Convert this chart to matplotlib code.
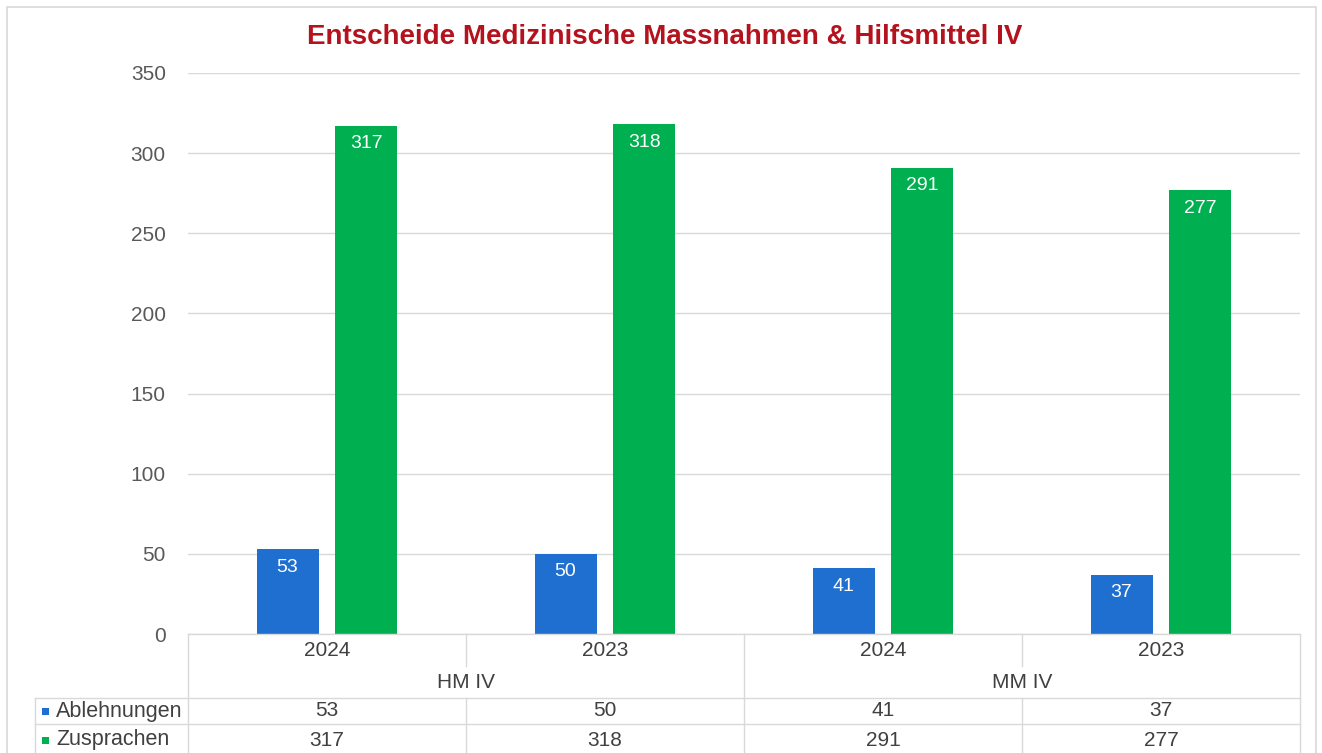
import matplotlib
matplotlib.use("Agg")
import matplotlib.pyplot as plt
from matplotlib.lines import Line2D
from matplotlib.patches import Rectangle

plt.rcParams['font.family'] = ['Liberation Sans', 'DejaVu Sans']

title = "Entscheide Medizinische Massnahmen & Hilfsmittel IV"
years = ["2024", "2023", "2024", "2023"]
groups = ["HM IV", "MM IV"]
series_names = ["Ablehnungen", "Zusprachen"]
ablehnungen = [53, 50, 41, 37]
zusprachen = [317, 318, 291, 277]
yticks = [0, 50, 100, 150, 200, 250, 300, 350]

colors = ["#1F6FD1", "#00B050"]
W, H = 1322, 753
fig = plt.figure(figsize=(W / 100, H / 100), dpi=100)

def fx(px):
    return px / W

def fy(py):
    return 1 - py / H

# outer border
fig.add_artist(Rectangle((fx(7), fy(760)), fx(1316) - fx(7), fy(7) - fy(760),
                         transform=fig.transFigure, fill=False, ec="#D9D9D9", lw=1.2))

ax_l, ax_r, ax_t, ax_b = 188, 1300, 73, 634
ax = fig.add_axes([fx(ax_l), fy(ax_b), fx(ax_r) - fx(ax_l), fy(ax_t) - fy(ax_b)])
n = len(years)
x = list(range(n))
bw = 0.223
off = 0.142
b1 = ax.bar([i - off for i in x], ablehnungen, width=bw, color=colors[0], zorder=3)
b2 = ax.bar([i + off for i in x], zusprachen, width=bw, color=colors[1], zorder=3)
for bars, vals in ((b1, ablehnungen), (b2, zusprachen)):
    for r, v in zip(bars, vals):
        ax.annotate(str(v), (r.get_x() + r.get_width() / 2, v), xytext=(0, -13),
                    textcoords="offset points", ha="center", va="center",
                    color="white", fontsize=14, zorder=4)

ax.set_xlim(-0.5, n - 0.5)
ax.set_ylim(0, 350)
ax.set_yticks(yticks)
ax.set_yticklabels([str(t) for t in yticks], color="#595959", fontsize=15)
ax.tick_params(axis="y", length=0, pad=16)
ax.set_xticks([])
ax.grid(axis="y", color="#D9D9D9", lw=1, zorder=0)
for s in ax.spines.values():
    s.set_visible(False)
ax.set_facecolor("none")

fig.text(fx(665), fy(37), title, ha="center", va="center", color="#B4121D",
         fontsize=20, fontweight="bold")

# data table
line_c = "#D9D9D9"
def hline(y, x0, x1):
    fig.add_artist(Line2D([fx(x0), fx(x1)], [fy(y), fy(y)], color=line_c, lw=1,
                          transform=fig.transFigure))

def vline(x, y0, y1):
    fig.add_artist(Line2D([fx(x), fx(x)], [fy(y0), fy(y1)], color=line_c, lw=1,
                          transform=fig.transFigure))

cat_w = (ax_r - ax_l) / n
hline(634, ax_l, ax_r)
hline(698, 35, ax_r)
hline(724, 35, ax_r)
vline(ax_l, 634, 753)
vline(ax_r, 634, 753)
vline(35, 698, 753)
for i in range(1, n):
    xb = ax_l + i * cat_w
    if i == n // 2:
        vline(xb, 634, 753)
    else:
        vline(xb, 634, 666)
        vline(xb, 698, 753)

tc = "#404040"
for i, yr in enumerate(years):
    fig.text(fx(ax_l + (i + 0.5) * cat_w), fy(651), yr, ha="center", va="center",
             color=tc, fontsize=15)
for g, name in enumerate(groups):
    fig.text(fx(ax_l + (2 * g + 1) * cat_w), fy(683), name, ha="center", va="center",
             color=tc, fontsize=15)
for r, (name, vals) in enumerate(zip(series_names, (ablehnungen, zusprachen))):
    yc = 711 + r * 29
    fig.add_artist(Rectangle((fx(42), fy(yc + 3.5)), fx(7), fy(yc - 3.5) - fy(yc + 3.5),
                             transform=fig.transFigure, color=colors[r], lw=0))
    fig.text(fx(56), fy(yc), name, ha="left", va="center", color=tc, fontsize=15.5)
    for i, v in enumerate(vals):
        fig.text(fx(ax_l + (i + 0.5) * cat_w), fy(yc), str(v), ha="center", va="center",
                 color=tc, fontsize=15)

fig.savefig("out.png", dpi=100, facecolor="white")
